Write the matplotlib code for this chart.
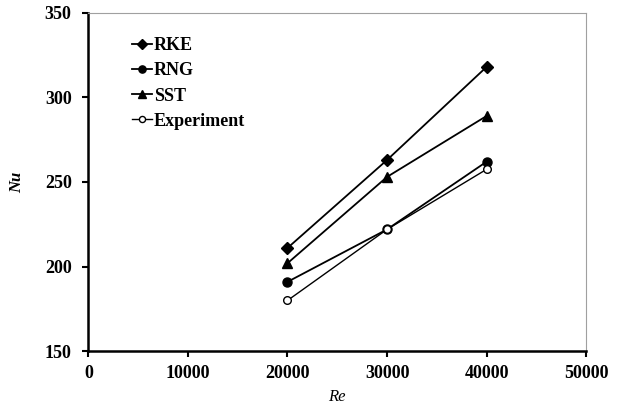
import matplotlib
matplotlib.use('Agg')
import matplotlib.pyplot as plt

# Data
re = [20000, 30000, 40000]
rke = [211, 263, 318]
rng = [191, 222, 262]
sst = [202, 253, 289]
experiment = [180, 222, 257.5]

plt.rcParams['font.family'] = ['Liberation Serif', 'DejaVu Serif']

fig = plt.figure(figsize=(6.22, 4.08), dpi=100)
ax = fig.add_axes([0.142, 0.139, 0.8005, 0.830])

ax.plot(re, rke, marker='D', color='black', lw=1.3, ms=6, label='RKE')
ax.plot(re, rng, marker='o', color='black', lw=1.3, ms=6.5, label='RNG')
ax.plot(re, sst, marker='^', color='black', lw=1.3, ms=6.5, label='SST')
ax.plot(re, experiment, marker='o', color='black', mfc='white', lw=1.0, ms=5.5, label='Experiment')

ax.set_xlim(0, 50000)
ax.set_ylim(150, 350)
ax.set_xticks([0, 10000, 20000, 30000, 40000, 50000])
ax.set_yticks([150, 200, 250, 300, 350])

for lab in ax.get_xticklabels() + ax.get_yticklabels():
    lab.set_fontweight('bold')
    lab.set_fontsize(13)

ax.tick_params(direction='out', length=4, width=1.5, top=False, right=False)
ax.tick_params(axis='y', pad=8)
ax.tick_params(axis='x', pad=6)
ax.spines['left'].set_linewidth(1.8)
ax.spines['bottom'].set_linewidth(1.8)
ax.spines['top'].set_color('#a0a0a0')
ax.spines['right'].set_color('#a0a0a0')
ax.spines['top'].set_linewidth(0.8)
ax.spines['right'].set_linewidth(0.8)

ax.set_xlabel('Re', fontstyle='italic', fontsize=12, labelpad=5)
ax.set_ylabel('Nu', fontstyle='italic', fontweight='bold', fontsize=12, labelpad=14)

ax.legend(loc='upper left', bbox_to_anchor=(0.055, 0.975), frameon=False,
          prop={'weight': 'bold', 'size': 13}, handlelength=1.1,
          handletextpad=0.1, labelspacing=0.45, markerscale=0.8)

plt.savefig('out.png', dpi=100)
